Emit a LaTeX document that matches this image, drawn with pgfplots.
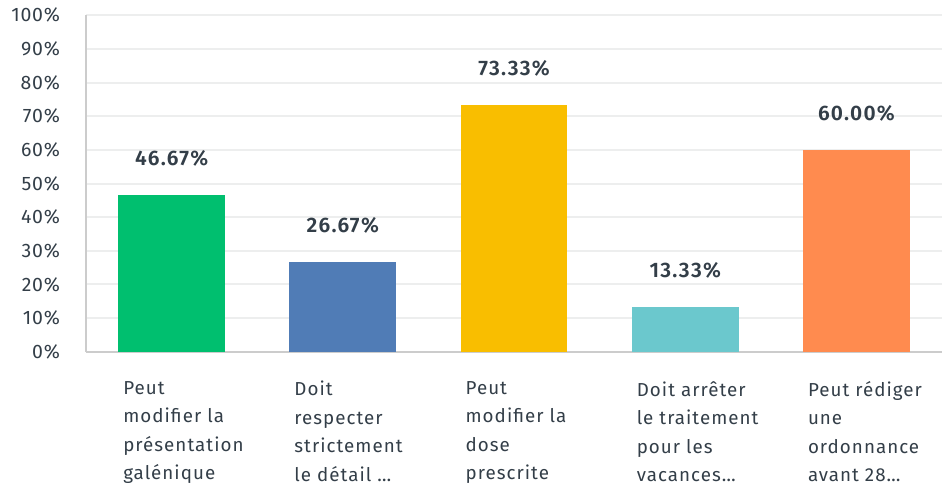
\documentclass[border=0pt]{standalone}
\usepackage{pgfplots}
\pgfplotsset{compat=1.18}
\usepackage{fontspec}
\setmainfont{Fira Sans}
\newfontfamily\widefont[LetterSpace=4]{Fira Sans}
\newfontfamily\widercat[LetterSpace=5.5]{Fira Sans}
\newfontfamily\widebold[LetterSpace=6]{Fira Sans SemiBold}
\definecolor{cgreen}{HTML}{00BF6F}
\definecolor{cblue}{HTML}{507CB6}
\definecolor{cyellow}{HTML}{F9BE00}
\definecolor{cteal}{HTML}{6BC8CD}
\definecolor{corange}{HTML}{FF8B4F}
\definecolor{gridgray}{HTML}{EDEEEE}
\definecolor{axisgray}{HTML}{CCCCCC}
\definecolor{textgray}{HTML}{333E48}
\begin{document}
\begin{tikzpicture}
\begin{axis}[
  scale only axis, width=857pt, height=337pt,
  xmin=-0.5, xmax=4.5, ymin=0, ymax=100,
  ytick={0,10,...,100},
  yticklabel={\pgfmathprintnumber{\tick}\%},
  /pgf/number format/assume math mode=true,
  xtick={0,1,2,3,4},
  xticklabels={{Peut\\modifier la\\présentation\\galénique},
               {Doit\\respecter\\strictement\\le détail \dots},
               {Peut\\modifier la\\dose\\prescrite},
               {Doit arrêter\\le traitement\\pour les\\vacances\dots},
               {Peut rédiger\\une\\ordonnance\\avant 28\dots}},
  xticklabel style={anchor=north west, xshift=-52pt, yshift=-26pt, align=left,
    font=\widercat\fontsize{18.8}{28.5}\selectfont, color=textgray},
  yticklabel style={font=\widefont\fontsize{19.5}{24}\selectfont, color=textgray,
    text width=60pt, align=right, inner sep=0pt, xshift=-26pt},
  ymajorgrids, grid style={color=gridgray, line width=2pt},
  axis x line*=bottom, axis y line*=left,
  axis line style={color=axisgray, line width=2pt, -},
  major tick length=0pt,
  nodes near coords={\pgfmathprintnumber[fixed, fixed zerofill, precision=2]{\pgfplotspointmeta}\%},
  nodes near coords style={font=\widebold\fontsize{21}{24}\selectfont, color=textgray, yshift=25pt},
  clip=false,
]
\addplot[ybar, bar width=107pt, bar shift=0pt, fill=cgreen, draw=none] coordinates {(0,46.67)};
\addplot[ybar, bar width=107pt, bar shift=0pt, fill=cblue, draw=none] coordinates {(1,26.67)};
\addplot[ybar, bar width=107pt, bar shift=0pt, fill=cyellow, draw=none] coordinates {(2,73.33)};
\addplot[ybar, bar width=107pt, bar shift=0pt, fill=cteal, draw=none] coordinates {(3,13.33)};
\addplot[ybar, bar width=107pt, bar shift=0pt, fill=corange, draw=none] coordinates {(4,60.00)};
\end{axis}
\path ([yshift=8pt]current bounding box.north) -- (current bounding box.south);
\end{tikzpicture}
\end{document}
